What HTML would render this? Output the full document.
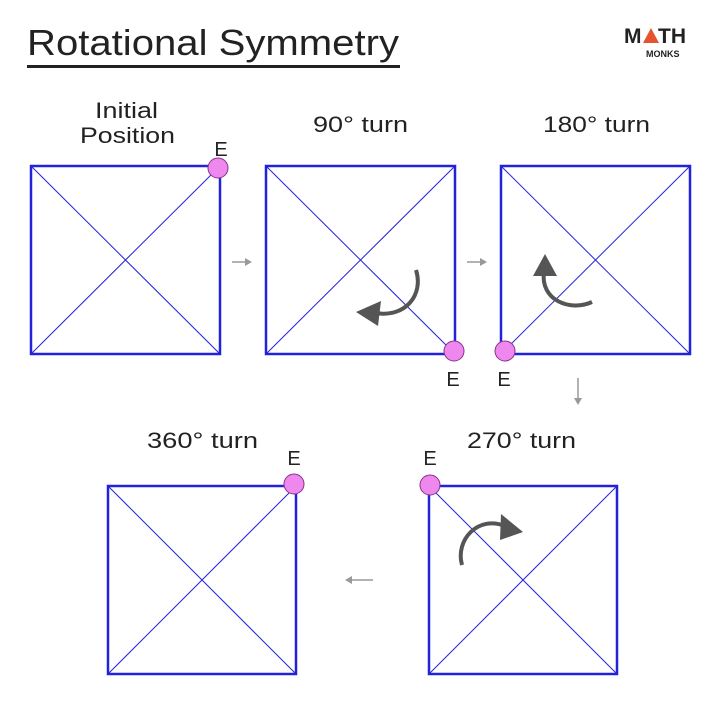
<!DOCTYPE html>
<html><head><style>body{margin:0;background:#fff}svg{display:block}</style></head><body>
<svg width="720" height="718" xmlns="http://www.w3.org/2000/svg" font-family="Liberation Sans, sans-serif">
<rect width="720" height="718" fill="#fff"/>
<text x="27" y="55" font-size="36" fill="#222" textLength="372" lengthAdjust="spacingAndGlyphs">Rotational Symmetry</text>
<rect x="27" y="65" width="373" height="3" fill="#222"/>
<text x="624" y="43" font-size="21" font-weight="bold" fill="#222">M</text>
<polygon points="643,43 651,28 659,43" fill="#e8532f"/>
<text x="658" y="43" font-size="21" font-weight="bold" fill="#222">TH</text>
<text x="646" y="57" font-size="9" font-weight="bold" fill="#222">MONKS</text>
<g font-size="22" fill="#222" lengthAdjust="spacingAndGlyphs">
<text x="95" y="118" textLength="63" lengthAdjust="spacingAndGlyphs">Initial</text>
<text x="80" y="143" textLength="95" lengthAdjust="spacingAndGlyphs">Position</text>
<text x="313" y="132" textLength="95" lengthAdjust="spacingAndGlyphs">90° turn</text>
<text x="543" y="132" textLength="107" lengthAdjust="spacingAndGlyphs">180° turn</text>
<text x="147" y="448" textLength="111" lengthAdjust="spacingAndGlyphs">360° turn</text>
<text x="467" y="448" textLength="109" lengthAdjust="spacingAndGlyphs">270° turn</text>
</g>
<g font-size="20" fill="#222" text-anchor="middle">
<text x="221" y="156">E</text>
<text x="453" y="386">E</text>
<text x="504" y="386">E</text>
<text x="294" y="465">E</text>
<text x="430" y="465">E</text>
</g>
<g stroke="#2222dd" fill="none">
<rect x="31" y="166" width="189" height="188" stroke-width="2.5"/>
<path d="M31 166L220 354M220 166L31 354" stroke-width="1"/>
<rect x="266" y="166" width="189" height="188" stroke-width="2.5"/>
<path d="M266 166L455 354M455 166L266 354" stroke-width="1"/>
<rect x="501" y="166" width="189" height="188" stroke-width="2.5"/>
<path d="M501 166L690 354M690 166L501 354" stroke-width="1"/>
<rect x="108" y="486" width="188" height="188" stroke-width="2.5"/>
<path d="M108 486L296 674M296 486L108 674" stroke-width="1"/>
<rect x="429" y="486" width="188" height="188" stroke-width="2.5"/>
<path d="M429 486L617 674M617 486L429 674" stroke-width="1"/>
</g>
<g fill="#ee88ee" stroke="#883388" stroke-width="1">
<circle cx="218" cy="168" r="10"/>
<circle cx="454" cy="351" r="10"/>
<circle cx="505" cy="351" r="10"/>
<circle cx="294" cy="484" r="10"/>
<circle cx="430" cy="485" r="10"/>
</g>
<g stroke="#555" stroke-width="4" fill="none">
<path d="M416 270 C424 295 405 318 376 313"/>
<path d="M592 302 C570 312 540 300 544 272"/>
<path d="M462 565 C455 540 478 515 505 526"/>
</g>
<g fill="#555">
<polygon points="356,312 381,301 378,326"/>
<polygon points="545,254 533,276 557,276"/>
<polygon points="523,532 501,514 500,540"/>
</g>
<g stroke="#999" stroke-width="1.5" fill="#999">
<line x1="232" y1="262" x2="248" y2="262"/><polygon points="252,262 245,258 245,266" stroke="none"/>
<line x1="467" y1="262" x2="483" y2="262"/><polygon points="487,262 480,258 480,266" stroke="none"/>
<line x1="578" y1="378" x2="578" y2="401"/><polygon points="578,405 574,398 582,398" stroke="none"/>
<line x1="373" y1="580" x2="349" y2="580"/><polygon points="345,580 352,576 352,584" stroke="none"/>
</g>
</svg>
</body></html>
